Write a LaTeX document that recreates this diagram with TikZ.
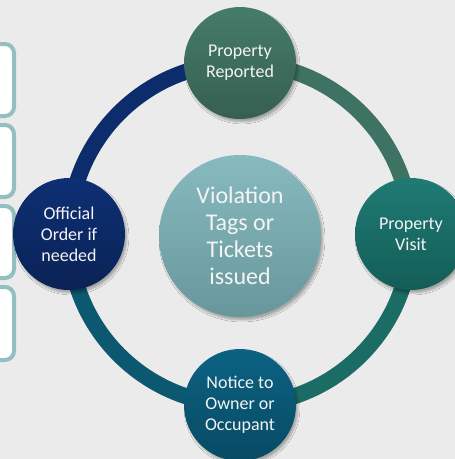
\documentclass[tikz,border=0pt]{standalone}
\usepackage{fontspec}
\setmainfont{Carlito}
\usetikzlibrary{shadows.blur}
\definecolor{bg}{HTML}{EBEBEB}
\definecolor{boxline}{HTML}{93BFC0}
\definecolor{arcTL}{HTML}{0C2C6C}
\definecolor{arcTR}{HTML}{3E7262}
\definecolor{arcBR}{HTML}{1A6C65}
\definecolor{arcBL}{HTML}{0B5870}
\definecolor{topA}{HTML}{467B6A}
\definecolor{topB}{HTML}{355F52}
\definecolor{rightA}{HTML}{1E7B74}
\definecolor{rightB}{HTML}{145D57}
\definecolor{botA}{HTML}{0B6282}
\definecolor{botB}{HTML}{084A64}
\definecolor{leftA}{HTML}{0D2F74}
\definecolor{leftB}{HTML}{0A2356}
\definecolor{midA}{HTML}{87BABF}
\definecolor{midB}{HTML}{68979B}
\definecolor{txt}{HTML}{F4F4F4}
\tikzset{
  x=1pt, y=1pt,
  sidebox/.style={draw=boxline, line width=4pt, fill=white, rounded corners=9pt},
  ringarc/.style={line width=16pt},
  arcshadow/.style={line width=16pt, draw=black, opacity=0.10},
  stage/.style={circle, minimum size=112pt, inner sep=0pt, align=center,
    text=txt, font=\fontsize{18}{21}\selectfont,
    blur shadow={shadow xshift=2pt, shadow yshift=-3pt, shadow opacity=30, shadow blur steps=6}},
  hub/.style={circle, minimum size=162pt, inner sep=0pt, align=center,
    text=txt, font=\fontsize{24}{27}\selectfont,
    blur shadow={shadow xshift=2pt, shadow yshift=-3pt, shadow opacity=30, shadow blur steps=6}}
}
\begin{document}
\begin{tikzpicture}
\fill[bg] (0,0) rectangle (455,-459);
\useasboundingbox (0,0) rectangle (455,-459);
% side boxes
\draw[sidebox] (-20,-44) rectangle (14,-116);
\draw[sidebox] (-20,-125) rectangle (14,-197);
\draw[sidebox] (-20,-206) rectangle (14,-278);
\draw[sidebox] (-20,-287) rectangle (14,-360);
% ring centre and stage positions
\coordinate (c) at (240,-234);
\coordinate (ptop) at (240,-63);
\coordinate (pright) at (411,-234);
\coordinate (pbot) at (240,-405);
\coordinate (pleft) at (69,-234);
% ring shadows
\begin{scope}[shift={(2,-3)}]
\draw[arcshadow] (ptop) arc[start angle=90, end angle=180, radius=171];
\draw[arcshadow] (ptop) arc[start angle=90, end angle=0, radius=171];
\draw[arcshadow] (pbot) arc[start angle=270, end angle=360, radius=171];
\draw[arcshadow] (pbot) arc[start angle=270, end angle=180, radius=171];
\end{scope}
% ring arcs
\draw[ringarc, arcTL] (ptop) arc[start angle=90, end angle=180, radius=171];
\draw[ringarc, arcTR] (ptop) arc[start angle=90, end angle=0, radius=171];
\draw[ringarc, arcBR] (pbot) arc[start angle=270, end angle=360, radius=171];
\draw[ringarc, arcBL] (pbot) arc[start angle=270, end angle=180, radius=171];
% stages
\node[stage, top color=topA, bottom color=topB] (top) at (ptop) {Property\\Reported};
\node[stage, top color=rightA, bottom color=rightB] (right) at (pright) {Property\\Visit};
\node[stage, top color=botA, bottom color=botB] (bottom) at (pbot) {Notice to\\Owner or\\Occupant};
\node[stage, top color=leftA, bottom color=leftB] (left) at (pleft) {Official\\Order if\\needed};
\node[hub, top color=midA, bottom color=midB] (hub) at (240,-236) {Violation\\Tags or\\Tickets\\issued};
\end{tikzpicture}
\end{document}
